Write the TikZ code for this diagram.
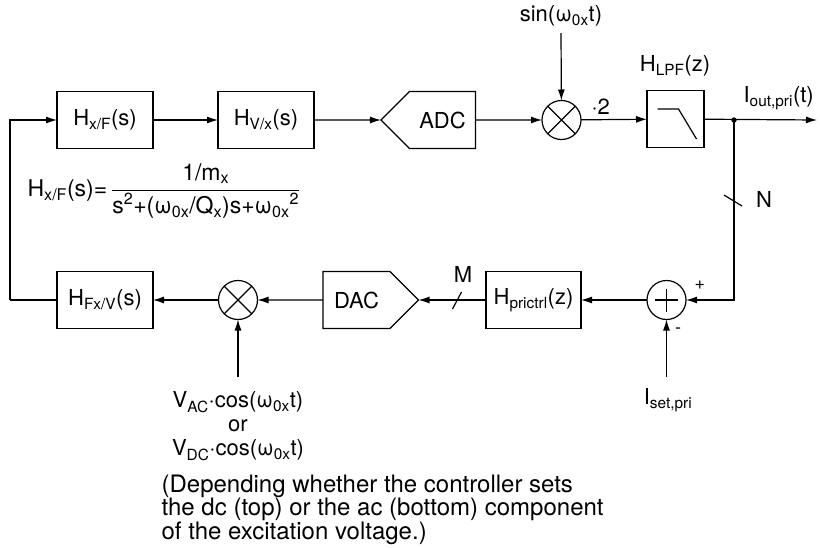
\documentclass[tikz,border=0pt]{standalone}
\usepackage{fontspec}
\setmainfont{TeX Gyre Heros}
\usepackage{tikz}
\usetikzlibrary{positioning,arrows.meta,shapes.symbols}

\newcommand{\lo}[1]{\textsubscript{#1}}
\newcommand{\hi}[1]{\textsuperscript{#1}}

\begin{document}
\begin{tikzpicture}[
  x=1pt,y=-1pt,
  font=\fontsize{22}{26}\selectfont,
  line width=1.2pt,
  blk/.style={draw,minimum width=96pt,minimum height=57pt,inner sep=0pt,outer sep=0pt},
  conv/.style={draw,signal,signal pointer angle=90,minimum height=57pt,inner sep=0pt,outer sep=0pt},
  mix/.style={draw,circle,minimum size=39pt,inner sep=0pt,outer sep=0pt},
  lbl/.style={inner sep=0pt},
  arr/.style={-{Latex[length=11pt,width=7pt]}}
]
\useasboundingbox (0,0) rectangle (820,547);

\node[blk] (hxf) at (105,120) {H\lo{x/F}(s)};
\node[blk] (hvx) at (266,120) {H\lo{V/x}(s)};
\node[conv,signal to=west] (adc) at (442.5,120) {\makebox[66pt]{ADC}};
\node[mix] (mul1) at (561.5,120) {};
\node[blk,minimum width=57pt] (lpf) at (675.5,119) {};
\coordinate (jn) at (734,120);
\coordinate (out) at (817,120);

\node[mix] (sum) at (666.5,300) {};
\node[blk,minimum width=95pt] (hpc) at (533.5,300) {H\lo{prictrl}(z)};
\node[conv,signal to=east] (dac) at (356.5,300) {\makebox[67pt]{DAC}};
\node[mix] (mul2) at (238,300) {};
\node[blk] (hfv) at (105,300) {H\lo{Fx/V}(s)};
\coordinate (fb) at (10,300);

\coordinate (sinin) at (561,33);
\coordinate (vin) at (238,377);
\coordinate (setin) at (666.5,377);
\coordinate (nsl) at (733,200);
\coordinate (msl) at (457,300);

\draw (mul1.north east) -- (mul1.south west) (mul1.north west) -- (mul1.south east);
\draw (mul2.north east) -- (mul2.south west) (mul2.north west) -- (mul2.south east);
\draw ([xshift=-11.5pt]sum.center) -- ([xshift=11.5pt]sum.center)
      ([yshift=-11.5pt]sum.center) -- ([yshift=11.5pt]sum.center);
\draw ([shift={(-18,-10)}]lpf.center) -- ++(21,0) -- ++(18,30);

\node[lbl] (sinl) at (561,16) {sin(ω\lo{0x}t)};
\node[lbl] (hlpf) at (675,66) {H\lo{LPF}(z)};
\node[lbl,anchor=west] (ioutl) at (743,98) {I\lo{out,pri}(t)};
\node[lbl] (nl) at (764,199) {N};
\node[lbl] (ml) at (463,274) {M};
\node[lbl,font=\fontsize{18}{20}\selectfont] (plus) at (700,285) {+};
\node[lbl,font=\fontsize{18}{20}\selectfont] (minus) at (678,331) {-};
\node[lbl] (setl) at (668,400) {I\lo{set,pri}};
\node[lbl,align=center,font=\fontsize{22}{24}\selectfont] (vl) at (238,426)
  {V\lo{AC}·cos(ω\lo{0x}t)\\or\\V\lo{DC}·cos(ω\lo{0x}t)};
\node[lbl,anchor=north west,align=left,font=\fontsize{24}{22}\selectfont] (note) at (161,474)
  {(Depending whether the controller sets\\the dc (top) or the ac (bottom) component\\of the excitation voltage.)};
\node[lbl,anchor=west,font=\fontsize{23}{26}\selectfont] (hxfeq) at (27,191)
  {H\lo{x/F}(s)=\,$\displaystyle\frac{\hbox{1/m\lo{x}}}{\hbox{s\hi{2}+(ω\lo{0x}/Q\lo{x})s+ω\lo{0x}\hi{2}}}$};

\draw[arr] (fb) |- (hxf.west);
\draw (hfv.west) -- (fb);
\draw[arr] (hxf) -- (hvx);
\draw[arr] (hvx) -- (adc);
\draw[arr] (adc) -- (mul1);
\draw[arr] (sinin) -- (mul1);
\draw[arr] (mul1) -- node[lbl,above=5pt,pos=0.3]{·2} (lpf);
\draw[arr] (lpf) -- (out);
\fill (jn) circle (2.7pt);
\draw[arr] (jn) |- (sum);
\draw ([shift={(-9,-5)}]nsl) -- ([shift={(9,6)}]nsl);
\draw[arr] (sum) -- (hpc);
\draw[arr] (setin) -- (sum);
\draw[arr] (hpc) -- (dac);
\draw ([shift={(-4.5,9)}]msl) -- ([shift={(4.5,-8)}]msl);
\draw[arr] (dac) -- (mul2);
\draw[arr] (vin) -- (mul2);
\draw[arr] (mul2) -- (hfv);
\end{tikzpicture}
\end{document}
